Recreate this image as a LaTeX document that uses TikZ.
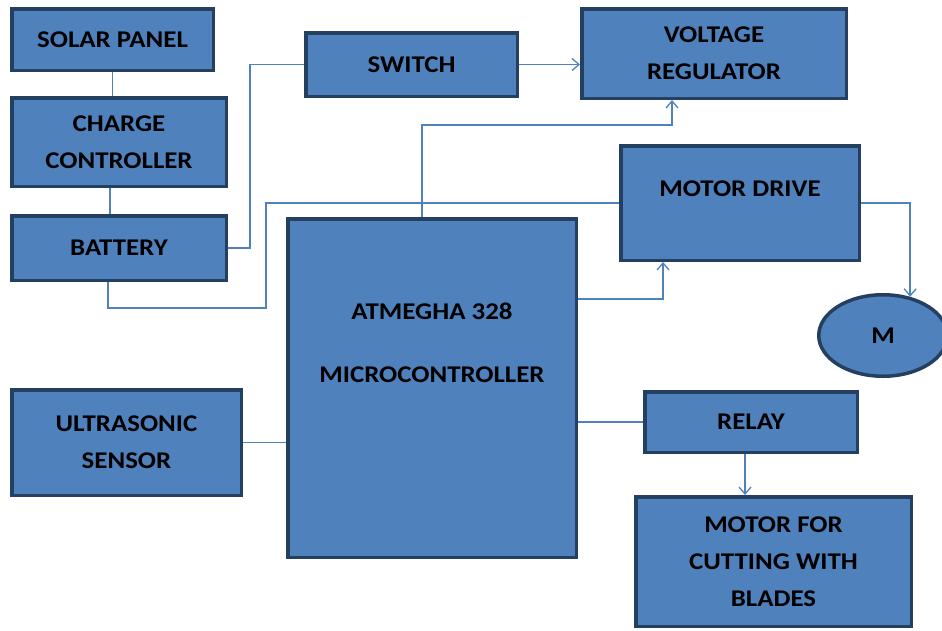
\documentclass[tikz,border=0pt]{standalone}
\usepackage{fontspec}
\setmainfont{Carlito}[FakeStretch=1.12]
\usetikzlibrary{arrows.meta,shapes.geometric}

\definecolor{boxfill}{HTML}{4F81BD}
\definecolor{boxline}{HTML}{243F60}
\definecolor{wirecol}{HTML}{4F81BD}

\begin{document}
\begin{tikzpicture}[
        x=1pt, y=-1pt,
        >={Straight Barb[length=7pt,width=12pt]},
        every node/.style={font=\bfseries\fontsize{24}{37}\selectfont, align=center, inner sep=0pt},
        blk/.style={draw=boxline, line width=3.5pt, fill=boxfill},
        wire/.style={draw=wirecol, line width=1.3pt}
    ]
    \useasboundingbox (0,0) rectangle (942,630);

    % Blocks
    \node[blk, minimum width=201.5, minimum height=61.5] (sp) at (112.5,39.5) {SOLAR PANEL};
    \node[blk, minimum width=214.5, minimum height=88.5] (cc) at (119,142) {CHARGE\\CONTROLLER};
    \node[blk, minimum width=214.5, minimum height=64.5] (bat) at (119,248) {BATTERY};
    \node[blk, minimum width=211.5, minimum height=63.5] (sw) at (411.5,64.5) {SWITCH};
    \node[blk, minimum width=264.5, minimum height=89.5] (vr) at (714,53.5) {VOLTAGE\\REGULATOR};
    \node[blk, minimum width=238.5, minimum height=114.5] (md) at (740,203) {};
    \node (mdtxt) at (740,189) {MOTOR DRIVE};
    \node[blk, minimum width=288.5, minimum height=338.5] (mc) at (432,388) {};
    \node (mctxt) at (432,343) {ATMEGHA 328\\[26pt]MICROCONTROLLER};
    \node[blk, minimum width=229.5, minimum height=105.5] (us) at (126.5,442.5) {ULTRASONIC\\SENSOR};
    \node[blk, minimum width=212.5, minimum height=60.5] (rl) at (751,422) {RELAY};
    \node[blk, minimum width=275.5, minimum height=129.5] (cut) at (773.5,561.5) {MOTOR FOR\\CUTTING WITH\\BLADES};
    \node[blk, ellipse, minimum width=128.5, minimum height=81.5] (mot) at (883,335.5) {M};

    % Connections
    \draw[wire] (sp.south) -- (sp.south |- cc.north);
    \draw[wire] ([xshift=-9pt]cc.south) -- ([xshift=-9pt]bat.north);
    \draw[wire] (bat.east) -- ++(22,0) |- (sw.west);
    \draw[wire,->] (sw.east) -- (sw.east -| vr.west);

    \coordinate (vrbend) at (672,125);
    \draw[wire,->] ([xshift=-10pt]mc.north) |- (vrbend) -- (vrbend |- vr.south);

    \coordinate (batbend) at (266,308);
    \draw[wire] ([xshift=-11pt]bat.south) |- (batbend) |- (md.west);

    \coordinate (mdbend) at (663,299);
    \draw[wire,->] (mc.east |- mdbend) -| (mdbend |- md.south);
    \draw[wire,->] (md.east) -| (mot.55);

    \draw[wire] (us.east) -- (us.east -| mc.west);
    \draw[wire] (rl.west -| mc.east) -- (rl.west);

    \coordinate (rlout) at ([xshift=-6pt]rl.south);
    \draw[wire,->] (rlout) -- (rlout |- cut.north);

\end{tikzpicture}
\end{document}
